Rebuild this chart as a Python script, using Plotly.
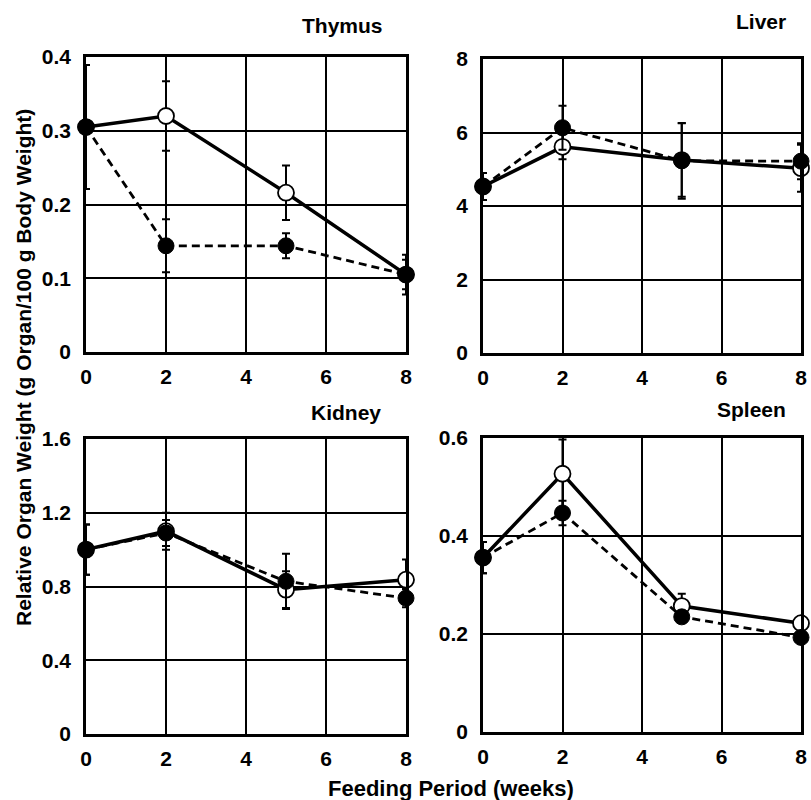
import plotly.graph_objects as go

weeks = [0, 2, 5, 8]

# Thymus
thymus_open = [0.305, 0.320, 0.216, 0.105]
thymus_open_err = [0.084, 0.047, 0.037, 0.020]
thymus_filled = [0.305, 0.144, 0.144, 0.105]
thymus_filled_err = [0.084, 0.036, 0.017, 0.027]

# Liver
liver_open = [4.53, 5.61, 5.25, 5.03]
liver_open_err = [0.37, 0.34, 1.0, 0.64]
liver_filled = [4.53, 6.13, 5.23, 5.22]
liver_filled_err = [0.37, 0.60, 1.03, 0.49]

# Kidney
kidney_open = [1.00, 1.10, 0.783, 0.837]
kidney_open_err = [0.136, 0.10, 0.10, 0.11]
kidney_filled = [1.00, 1.09, 0.828, 0.737]
kidney_filled_err = [0.136, 0.07, 0.15, 0.05]

# Spleen
spleen_open = [0.356, 0.527, 0.257, 0.222]
spleen_open_err = [0.032, 0.070, 0.025, 0.012]
spleen_filled = [0.356, 0.447, 0.235, 0.193]
spleen_filled_err = [0.032, 0.025, 0.012, 0.012]

panel_titles = ["Thymus", "Liver", "Kidney", "Spleen"]
x_ticks = [0, 2, 4, 6, 8]
thymus_ticks = [0, 0.1, 0.2, 0.3, 0.4]
liver_ticks = [0, 2, 4, 6, 8]
kidney_ticks = [0, 0.4, 0.8, 1.2, 1.6]
spleen_ticks = [0, 0.2, 0.4, 0.6]
tick_text = {
    "thymus": ["0", "0.1", "0.2", "0.3", "0.4"],
    "liver": ["0", "2", "4", "6", "8"],
    "kidney": ["0", "0.4", "0.8", "1.2", "1.6"],
    "spleen": ["0", "0.2", "0.4", "0.6"],
}
y_title = "Relative Organ Weight (g Organ/100 g Body Weight)"
x_title = "Feeding Period (weeks)"

W, H = 811, 800

def px_x(a, b):
    return [a / W, b / W]

def px_y(top, bottom):
    return [1 - bottom / H, 1 - top / H]

panels = [
    dict(key="thymus", ax="", o=thymus_open, oe=thymus_open_err, f=thymus_filled, fe=thymus_filled_err,
         ticks=thymus_ticks, rng=[0, 0.4], xd=px_x(86, 406), yd=px_y(57, 352), title=(342, 26)),
    dict(key="liver", ax="2", o=liver_open, oe=liver_open_err, f=liver_filled, fe=liver_filled_err,
         ticks=liver_ticks, rng=[0, 8], xd=px_x(483, 801), yd=px_y(59, 353), title=(761, 22)),
    dict(key="kidney", ax="3", o=kidney_open, oe=kidney_open_err, f=kidney_filled, fe=kidney_filled_err,
         ticks=kidney_ticks, rng=[0, 1.6], xd=px_x(86, 406), yd=px_y(439, 734), title=(346, 412)),
    dict(key="spleen", ax="4", o=spleen_open, oe=spleen_open_err, f=spleen_filled, fe=spleen_filled_err,
         ticks=spleen_ticks, rng=[0, 0.6], xd=px_x(483, 801), yd=px_y(438, 732), title=(751, 410)),
]

fig = go.Figure()
font = dict(family="Liberation Sans, Arial, sans-serif", size=21, color="black", weight="bold")

layout = dict(
    width=W, height=H,
    margin=dict(l=0, r=0, t=0, b=0),
    paper_bgcolor="white", plot_bgcolor="white",
    showlegend=False, font=font,
)

annotations = []
for p, name in zip(panels, panel_titles):
    xa = "x" + p["ax"]
    ya = "y" + p["ax"]
    # open circles, solid line
    fig.add_trace(go.Scatter(
        x=weeks, y=p["o"], xaxis=xa, yaxis=ya, mode="lines+markers",
        line=dict(color="black", width=3.5),
        marker=dict(symbol="circle", size=16, color="white", line=dict(color="black", width=1.8)),
        error_y=dict(type="data", array=p["oe"], color="black", thickness=2, width=4),
        cliponaxis=False,
    ))
    # filled circles, dashed line
    fig.add_trace(go.Scatter(
        x=weeks, y=p["f"], xaxis=xa, yaxis=ya, mode="lines+markers",
        line=dict(color="black", width=2.8, dash="8px,5px"),
        marker=dict(symbol="circle", size=16, color="black", line=dict(color="black", width=1)),
        error_y=dict(type="data", array=p["fe"], color="black", thickness=2, width=4),
        cliponaxis=False,
    ))
    axis_common = dict(showline=True, mirror=True, linecolor="black", linewidth=2.5,
                       showgrid=True, gridcolor="black", gridwidth=2, zeroline=False,
                       ticks="", tickfont=font, automargin=False)
    layout["xaxis" + p["ax"]] = dict(axis_common, domain=p["xd"], range=[0, 8],
                                     tickvals=x_ticks, ticktext=[str(t) for t in x_ticks],
                                     anchor=ya, ticklabelstandoff=4)
    layout["yaxis" + p["ax"]] = dict(axis_common, domain=p["yd"], range=p["rng"],
                                     tickvals=p["ticks"], ticktext=tick_text[p["key"]],
                                     anchor=xa, ticklabelstandoff=8)
    tx, ty = p["title"]
    annotations.append(dict(text=name, x=tx / W, y=1 - ty / H, xref="paper", yref="paper",
                            showarrow=False, xanchor="center", yanchor="middle",
                            font=dict(font, size=21)))

annotations.append(dict(text=y_title, x=23 / W, y=1 - 368 / H, xref="paper", yref="paper",
                        showarrow=False, textangle=-90, xanchor="center", yanchor="middle",
                        font=dict(font, size=21)))
annotations.append(dict(text=x_title, x=451 / W, y=1 - 788 / H, xref="paper", yref="paper",
                        showarrow=False, xanchor="center", yanchor="middle",
                        font=dict(font, size=22)))
layout["annotations"] = annotations
fig.update_layout(**layout)
fig.write_html("out.html", config={"displayModeBar": False},
               post_script="document.body.style.margin='0';")
